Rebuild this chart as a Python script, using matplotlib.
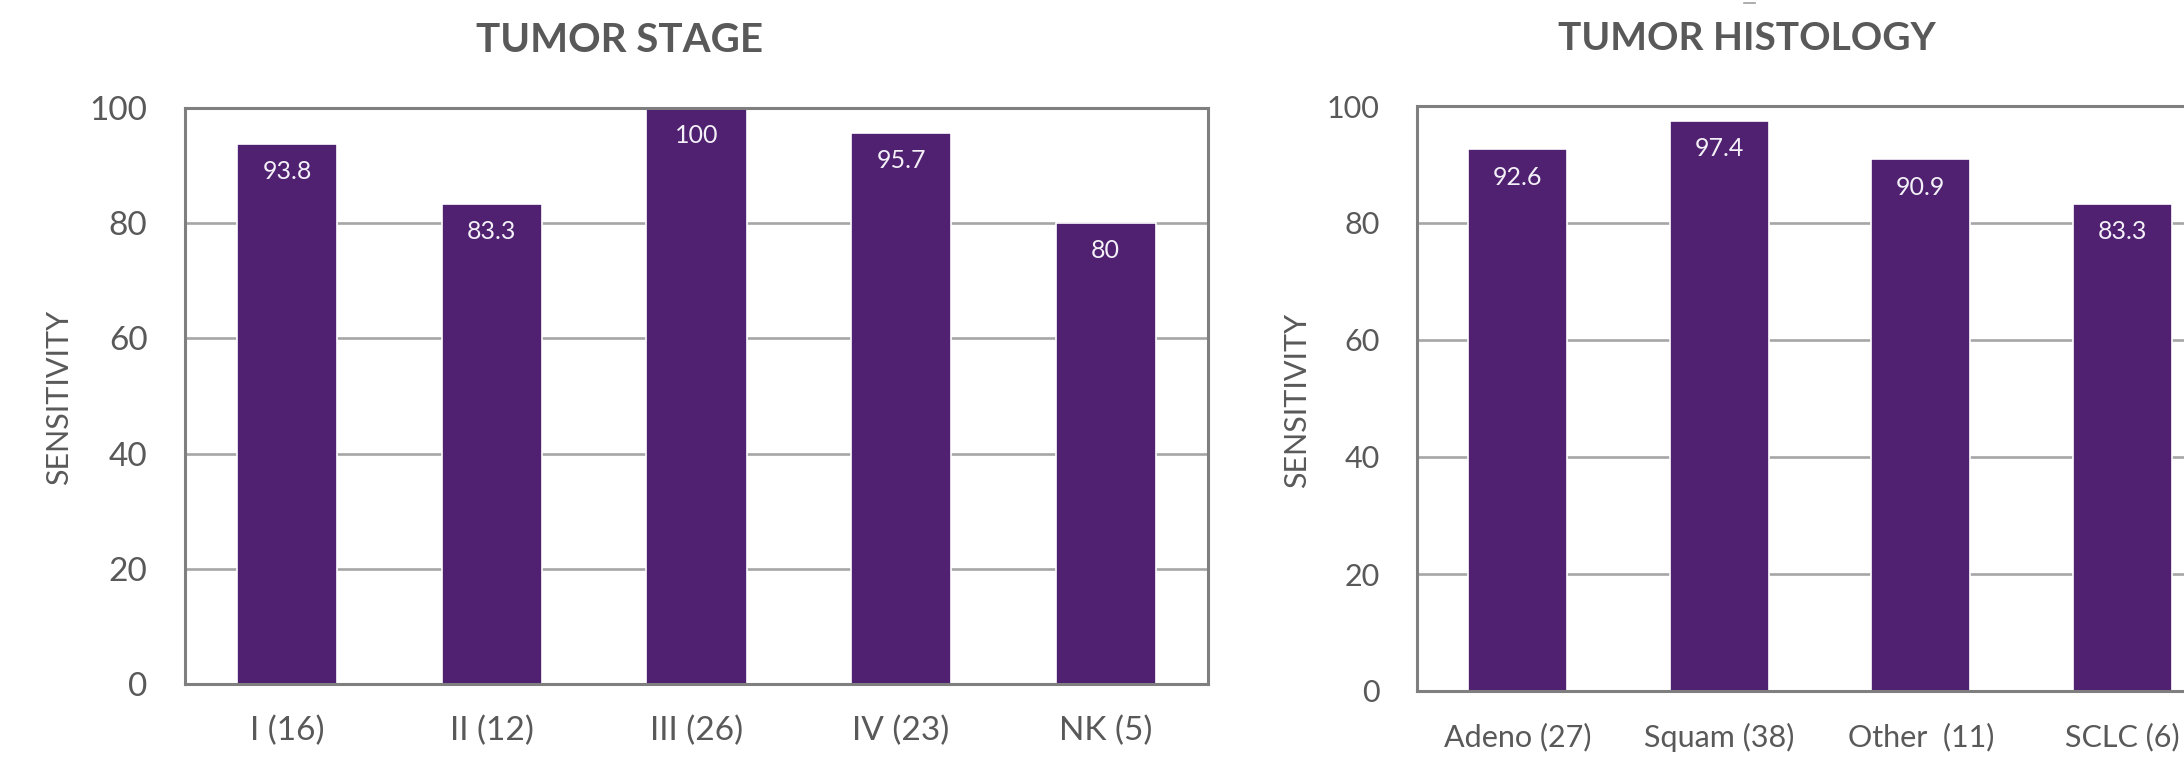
import matplotlib.pyplot as plt
from matplotlib.lines import Line2D

# data
stage_labels = ["I (16)", "II (12)", "III (26)", "IV (23)", "NK (5)"]
stage_values = [93.8, 83.3, 100, 95.7, 80]

histo_labels = ["Adeno (27)", "Squam (38)", "Other  (11)", "SCLC (6)"]
histo_values = [92.6, 97.4, 90.9, 83.3]

y_ticks = [0, 20, 40, 60, 80, 100]

BAR_COLOR = "#4F2170"
TEXT_COLOR = "#595959"
FRAME_COLOR = "#7F7F7F"
GRID_COLOR = "#A6A6A6"

plt.rcParams["font.family"] = ["Lato", "DejaVu Sans"]

W, H = 2184, 766
fig = plt.figure(figsize=(W / 100, H / 100), dpi=100)


def px_box(left, top, right, bottom):
    return [left / W, 1 - bottom / H, (right - left) / W, (bottom - top) / H]


def draw_panel(ax, labels, values, ytick_size, xtick_size, xpad):
    x = list(range(len(labels)))
    ax.set_axisbelow(True)
    ax.yaxis.grid(True, color=GRID_COLOR, linewidth=1.9)
    bars = ax.bar(x, values, width=0.49, color=BAR_COLOR,
                  edgecolor="white", linewidth=1.2, zorder=2)
    for b, v in zip(bars, values):
        ax.annotate(f"{v:g}", (b.get_x() + b.get_width() / 2, v),
                    xytext=(0, -20), textcoords="offset points",
                    ha="center", va="center", fontsize=18,
                    color="#F4F0F8", zorder=3)
    ax.set_xlim(-0.5, len(labels) - 0.5)
    ax.set_ylim(0, 100)
    ax.set_yticks(y_ticks)
    ax.set_xticks(x)
    ax.set_xticklabels(labels)
    ax.tick_params(axis="y", length=0, pad=27, labelsize=ytick_size,
                   labelcolor=TEXT_COLOR)
    ax.tick_params(axis="x", length=0, pad=xpad, labelsize=xtick_size,
                   labelcolor=TEXT_COLOR)
    for sp in ax.spines.values():
        sp.set_color(FRAME_COLOR)
        sp.set_linewidth(2.2)


ax1 = fig.add_axes(px_box(185, 108, 1208, 684))
draw_panel(ax1, stage_labels, stage_values, 24, 24, 23)

ax2 = fig.add_axes(px_box(1417, 106, 2223, 691))
draw_panel(ax2, histo_labels, histo_values, 22, 22, 23)

fig.text(620 / W, 1 - 41 / H, "TUMOR STAGE", ha="center", va="center",
         fontsize=29, fontweight="bold", color=TEXT_COLOR)
fig.text(1747 / W, 1 - 38 / H, "TUMOR HISTOLOGY", ha="center", va="center",
         fontsize=28, fontweight="bold", color=TEXT_COLOR)

# small stray mark above the right title
fig.add_artist(Line2D([1744 / W, 1755 / W], [1 - 3 / H, 1 - 3 / H],
                      color="#A0A0A0", linewidth=1.2))

fig.text(59 / W, 1 - 397 / H, "SENSITIVITY", rotation=90, ha="center",
         va="center", fontsize=22, color=TEXT_COLOR)
fig.text(1297 / W, 1 - 400 / H, "SENSITIVITY", rotation=90, ha="center",
         va="center", fontsize=22, color=TEXT_COLOR)

fig.savefig("out.png", dpi=100, facecolor="white")
